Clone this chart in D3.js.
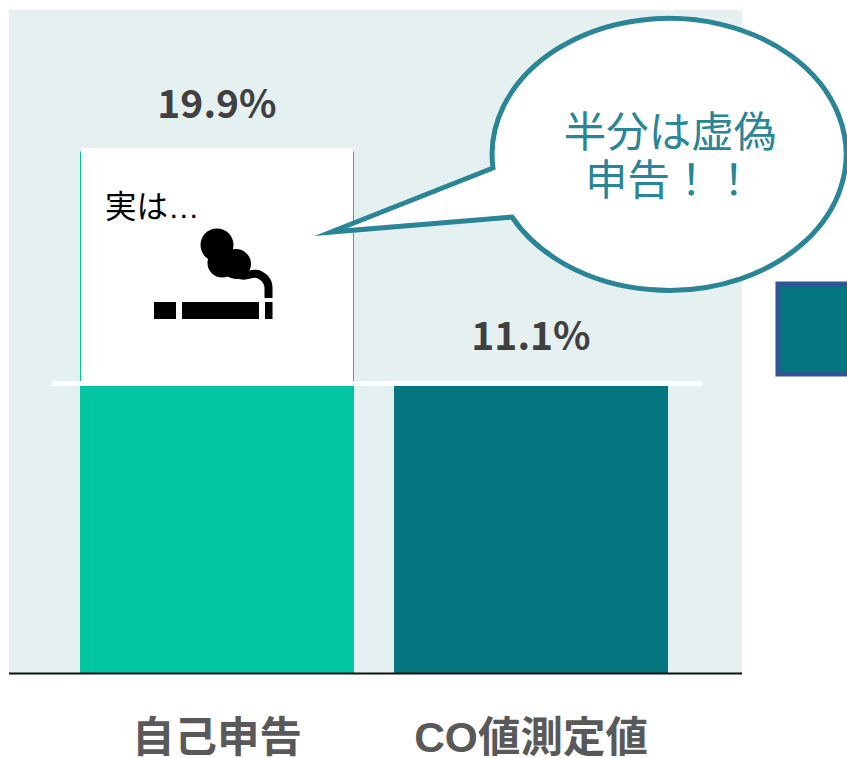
<!DOCTYPE html>
<html>
<head>
<meta charset="utf-8">
<script src="https://cdn.jsdelivr.net/npm/d3@7"></script>
<style>
html, body { margin: 0; padding: 0; background: #fff; overflow: hidden; }
svg { display: block; }
</style>
</head>
<body>
<div id="chart"></div>
<script>
// data
var categories = ["自己申告", "CO値測定値"];
var values = [19.9, 11.1];
var valueLabels = ["19.9%", "11.1%"];
var barColors = ["#00C5A1", "#03767F"];
var bubbleLines = ["半分は虚偽", "申告！！"];

var jp = "'Noto Sans CJK JP', sans-serif";
var teal = "#2A8596";

var svg = d3.select("#chart")
  .append("svg")
    .attr("width", 847)
    .attr("height", 758);

// panel behind the plot
svg.append("rect")
    .attr("x", 9)
    .attr("y", 10)
    .attr("width", 733)
    .attr("height", 663)
    .attr("fill", "#E5F1F1");

var x = d3.scaleBand()
  .domain(categories)
  .range([80, 668])
  .paddingInner(40 / 314)
  .paddingOuter(0);

var y = d3.scaleLinear()
  .domain([0, 25.3])
  .range([673, 10]);

// Bars
svg.selectAll(".bar")
  .data(values)
  .enter().append("rect")
    .attr("class", "bar")
    .attr("x", function(d, i) { return x(categories[i]); })
    .attr("y", function(d) { return y(d); })
    .attr("width", x.bandwidth())
    .attr("height", function(d) { return y(0) - y(d); })
    .attr("fill", function(d, i) { return barColors[i]; });

// white sheet over the top of the first bar
svg.append("rect")
    .attr("x", 81)
    .attr("y", 148)
    .attr("width", 272)
    .attr("height", 234)
    .attr("fill", "#fff");

// white cut line, hides the top of the second bar
svg.append("rect")
    .attr("x", 52)
    .attr("y", 381)
    .attr("width", 650)
    .attr("height", 5)
    .attr("fill", "#fff");

// value labels
svg.selectAll(".value")
  .data(values)
  .enter().append("text")
    .attr("class", "value")
    .attr("x", function(d, i) { return x(categories[i]) + x.bandwidth() / 2; })
    .attr("y", function(d, i) { return i == 0 ? 118 : 350; })
    .attr("text-anchor", "middle")
    .style("font-family", jp)
    .style("font-weight", 700)
    .style("font-size", "39px")
    .style("fill", "#404040")
    .text(function(d, i) { return valueLabels[i]; });

// X axis
var axis = svg.append("g")
    .attr("transform", "translate(0,673)")
    .call(d3.axisBottom(x).tickSize(0).tickPadding(49));
axis.select(".domain").remove();
axis.selectAll("text")
    .style("font-family", "'Liberation Sans', " + jp)
    .style("font-weight", 700)
    .style("font-size", "42.5px")
    .style("fill", "#595959");

svg.append("line")
    .attr("x1", 9)
    .attr("x2", 742)
    .attr("y1", 673.5)
    .attr("y2", 673.5)
    .attr("stroke", "#111")
    .attr("stroke-width", 2);

// 実は…
svg.append("text")
    .attr("x", 105)
    .attr("y", 218)
    .style("font-family", "'Liberation Sans', " + jp)
    .style("font-size", "31.5px")
    .style("fill", "#000")
    .text("実は…");

// smoking icon
var icon = svg.append("g").attr("fill", "#000");
icon.append("rect").attr("x", 154).attr("y", 302).attr("width", 22).attr("height", 17);
icon.append("rect").attr("x", 182).attr("y", 302).attr("width", 77).attr("height", 17);
icon.append("rect").attr("x", 265).attr("y", 302).attr("width", 7.5).attr("height", 17);
icon.append("circle").attr("cx", 217).attr("cy", 245).attr("r", 16.5);
icon.append("circle").attr("cx", 222).attr("cy", 263).attr("r", 14.5);
icon.append("circle").attr("cx", 236).attr("cy", 264).attr("r", 15);
icon.append("path")
    .attr("d", "M238,274 C246,279 250,272 258,274 C265,277 268.5,282 268.5,288 L268.5,298")
    .attr("fill", "none")
    .attr("stroke", "#000")
    .attr("stroke-width", 8);

// square cut off at the right edge
svg.append("rect")
    .attr("x", 778)
    .attr("y", 284)
    .attr("width", 90)
    .attr("height", 90)
    .attr("fill", "#03767F")
    .attr("stroke", "#2F5597")
    .attr("stroke-width", 5);

// speech bubble
svg.append("path")
    .attr("d", "M331,232 L493,168 A177,136 0 1 1 512,217 Z")
    .attr("fill", "#fff")
    .attr("stroke", teal)
    .attr("stroke-width", 5)
    .attr("stroke-linejoin", "miter")
    .attr("stroke-miterlimit", 20);

var bubbleText = svg.append("text")
    .attr("text-anchor", "middle")
    .style("font-family", jp)
    .style("font-size", "42.5px")
    .style("fill", teal);
bubbleText.selectAll("tspan")
  .data(bubbleLines)
  .enter().append("tspan")
    .attr("x", 670)
    .attr("y", function(d, i) { return 147 + i * 48; })
    .text(function(d) { return d; });
</script>
</body>
</html>
